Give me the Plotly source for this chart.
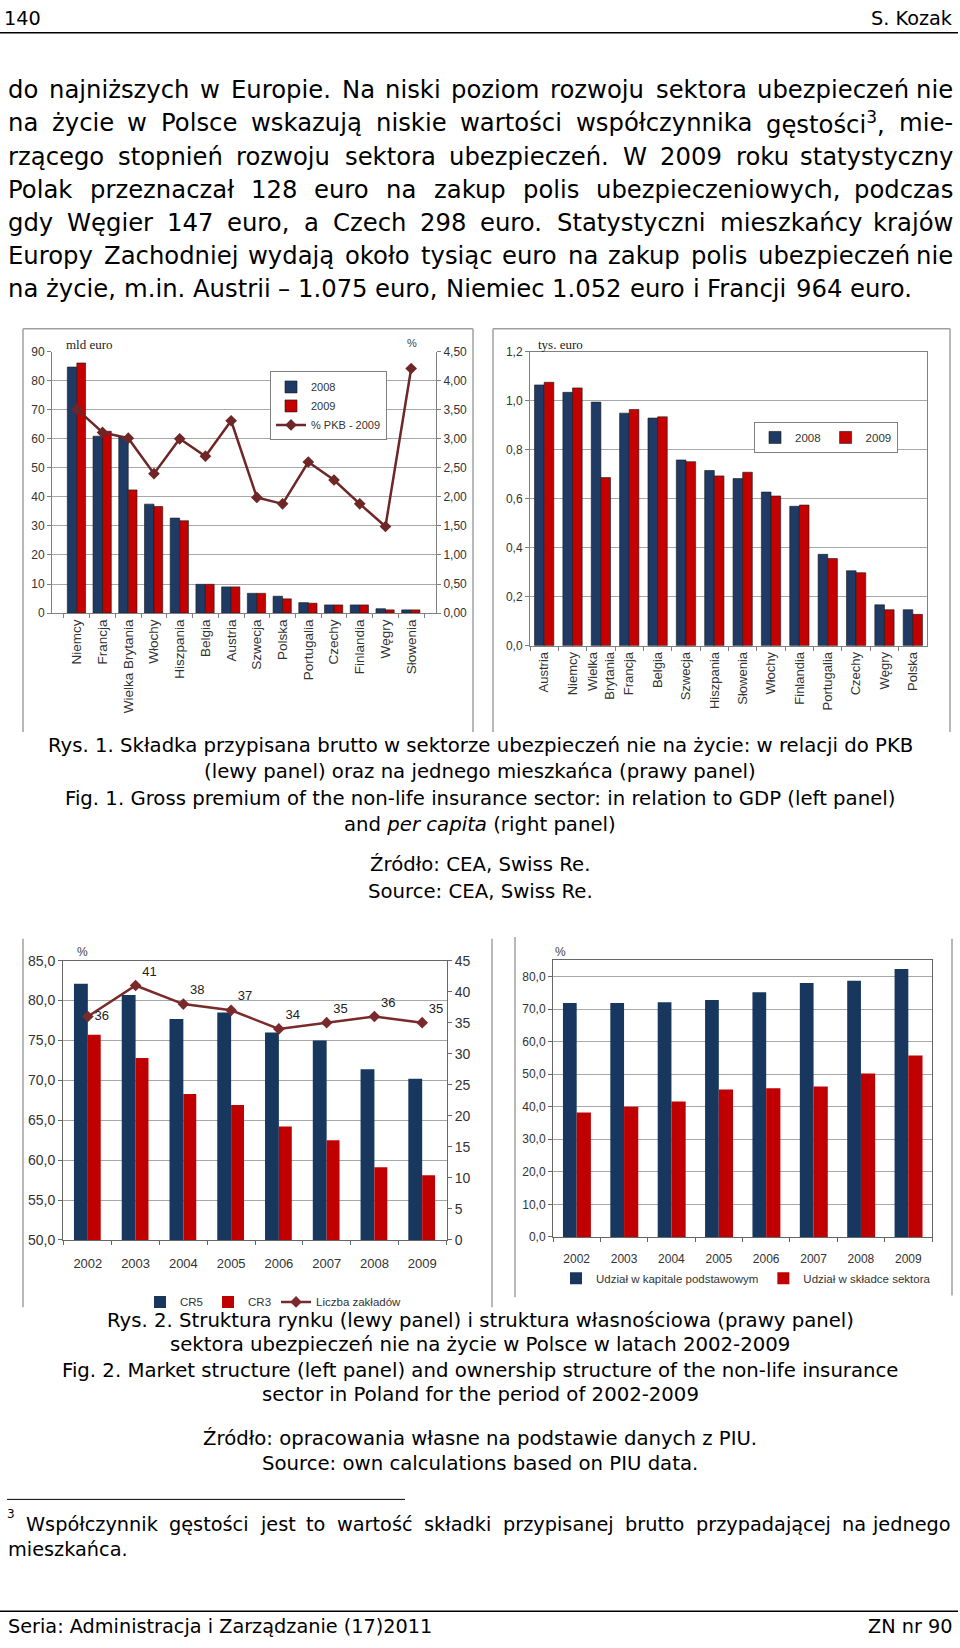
import plotly.graph_objects as go

# ---------------- data ----------------
kraje_pkb = ["Niemcy", "Francja", "Wielka Brytania", "Włochy", "Hiszpania", "Belgia", "Austria",
             "Szwecja", "Polska", "Portugalia", "Czechy", "Finlandia", "Węgry", "Słowenia"]
skladka_2008 = [84.7, 60.9, 60.6, 37.5, 32.7, 9.9, 9.0, 6.8, 5.8, 3.6, 2.8, 2.8, 1.5, 1.1]
skladka_2009 = [86.1, 62.6, 42.4, 36.7, 31.8, 9.9, 9.0, 6.8, 4.9, 3.4, 2.8, 2.8, 1.1, 1.1]
pkb_proc_2009 = [3.51, 3.11, 3.01, 2.40, 3.00, 2.70, 3.31, 1.99, 1.88, 2.60, 2.29, 1.88, 1.49, 4.21]

kraje_pc = ["Austria", "Niemcy", "Wielka Brytania", "Francja", "Belgia", "Szwecja", "Hiszpania",
            "Słowenia", "Włochy", "Finlandia", "Portugalia", "Czechy", "Węgry", "Polska"]
etykiety_pc = ["Austria", "Niemcy", "Wielka<br>Brytania", "Francja", "Belgia", "Szwecja", "Hiszpania",
               "Słowenia", "Włochy", "Finlandia", "Portugalia", "Czechy", "Węgry", "Polska"]
pc_2008 = [1.064, 1.034, 0.994, 0.949, 0.929, 0.758, 0.715, 0.682, 0.627, 0.569, 0.373, 0.306, 0.167, 0.147]
pc_2009 = [1.075, 1.052, 0.686, 0.964, 0.934, 0.751, 0.693, 0.708, 0.611, 0.574, 0.356, 0.298, 0.147, 0.128]

lata = ["2002", "2003", "2004", "2005", "2006", "2007", "2008", "2009"]
cr5 = [82.1, 80.7, 77.7, 78.5, 76.0, 75.0, 71.4, 70.2]
cr3 = [75.7, 72.8, 68.3, 66.9, 64.2, 62.5, 59.1, 58.1]
liczba_zakladow = [36, 41, 38, 37, 34, 35, 36, 35]
udzial_kapital = [71.9, 71.9, 72.1, 72.8, 75.2, 78.0, 78.7, 82.3]
udzial_skladka = [38.2, 40.0, 41.6, 45.3, 45.7, 46.2, 50.2, 55.7]

# ---------------- page text ----------------
naglowek_lewy = "140"
naglowek_prawy = "S. Kozak"
akapit = [
    "do najniższych w Europie. Na niski poziom rozwoju sektora ubezpieczeń nie",
    "na życie w Polsce wskazują niskie wartości współczynnika gęstości<sup>3</sup>, mie-",
    "rzącego stopnień rozwoju sektora ubezpieczeń. W 2009 roku statystyczny",
    "Polak przeznaczał 128 euro na zakup polis ubezpieczeniowych, podczas",
    "gdy Węgier 147 euro, a Czech 298 euro. Statystyczni mieszkańcy krajów",
    "Europy Zachodniej wydają około tysiąc euro na zakup polis ubezpieczeń nie",
    "na życie, m.in. Austrii – 1.075 euro, Niemiec 1.052 euro i Francji 964 euro.",
]
podpis1 = [
    "Rys. 1. Składka przypisana brutto w sektorze ubezpieczeń nie na życie: w relacji do PKB",
    "(lewy panel) oraz na jednego mieszkańca (prawy panel)",
    "Fig. 1. Gross premium of the non-life insurance sector: in relation to GDP (left panel)",
    "and <i>per capita</i> (right panel)",
    "Źródło: CEA, Swiss Re.",
    "Source: CEA, Swiss Re.",
]
podpis2 = [
    "Rys. 2. Struktura rynku (lewy panel) i struktura własnościowa (prawy panel)",
    "sektora ubezpieczeń nie na życie w Polsce w latach 2002-2009",
    "Fig. 2. Market structure (left panel) and ownership structure of the non-life insurance",
    "sector in Poland for the period of 2002-2009",
    "Źródło: opracowania własne na podstawie danych z PIU.",
    "Source: own calculations based on PIU data.",
]
przypis = [
    "Współczynnik gęstości jest to wartość składki przypisanej brutto przypadającej na jednego",
    "mieszkańca.",
]
stopka_lewa = "Seria: Administracja i Zarządzanie (17)2011"
stopka_prawa = "ZN nr 90"

# ---------------- geometry helpers ----------------
W, H = 960, 1648
def px(x): return x / W
def py(y): return 1 - y / H

SANS = "DejaVu Sans, Liberation Sans, sans-serif"
CHART = "Liberation Sans, Arial, sans-serif"
SERIF = "Liberation Serif, Times New Roman, serif"

# DejaVu Sans advance widths (units / 2048)
DW = {' ': 651, ',': 651, '.': 651, ':': 690, ';': 690, '-': 739, '(': 799, ')': 799, '–': 1024, '%': 1946,
      'A': 1401, 'B': 1405, 'C': 1430, 'D': 1577, 'E': 1294, 'F': 1178, 'G': 1587, 'H': 1540, 'I': 604,
      'J': 604, 'K': 1343, 'L': 1141, 'M': 1767, 'N': 1532, 'O': 1612, 'P': 1235, 'Q': 1612, 'R': 1423,
      'S': 1300, 'T': 1251, 'U': 1499, 'V': 1401, 'W': 2025, 'X': 1403, 'Y': 1251, 'Z': 1403,
      'a': 1255, 'b': 1300, 'c': 1126, 'd': 1300, 'e': 1260, 'f': 721, 'g': 1300, 'h': 1298, 'i': 569,
      'j': 569, 'k': 1186, 'l': 569, 'm': 1995, 'n': 1298, 'o': 1253, 'p': 1300, 'q': 1300, 'r': 842,
      's': 1067, 't': 803, 'u': 1298, 'v': 1212, 'w': 1675, 'x': 1212, 'y': 1212, 'z': 1075,
      'ą': 1255, 'ć': 1126, 'ę': 1260, 'ł': 589, 'ń': 1298, 'ó': 1253, 'ś': 1067, 'ź': 1075, 'ż': 1075,
      'Ł': 1159, 'Ś': 1300, 'Ź': 1403, 'Ż': 1403}
for d in "0123456789":
    DW[d] = 1303

def clean(s):
    for t in ("<sup>", "</sup>", "<i>", "</i>"):
        s = s.replace(t, "")
    return s

def tw(s, size):
    return sum(DW.get(ch, 1250) for ch in clean(s)) * size / 2048.0

annotations = []

def ann(text, x, y, size, xanchor="left", family=SANS, color="black", yanchor="middle"):
    annotations.append(dict(text=text, x=px(x), y=py(y), xref="paper", yref="paper",
                            xanchor=xanchor, yanchor=yanchor, showarrow=False,
                            font=dict(family=family, size=size, color=color)))

def justified(line, y, x0, x1, size, justify=True):
    words = line.split(" ")
    widths = [tw(w, size) for w in words]
    if justify and len(words) > 1:
        gap = (x1 - x0 - sum(widths)) / (len(words) - 1)
    else:
        gap = tw(" ", size)
    x = x0
    for i, (w, wd) in enumerate(zip(words, widths)):
        if justify and i == len(words) - 1 and len(words) > 1:
            ann(w, x1, y, size, xanchor="right")
        else:
            ann(w, x, y, size)
        x += wd + gap

# text sizes derived from measured line extents
body_size = 905 / tw(akapit[-1], 1)
cap_size = 555 / tw(podpis2[4], 1)
hf_size = 425 / tw(stopka_lewa, 1)
fn_size = cap_size * 0.98

# header
ann(naglowek_lewy, 2, 11, hf_size)
ann(naglowek_prawy, 955, 11, hf_size, xanchor="right")

# body paragraph
body_y = [82.5, 116, 149.5, 183, 216.5, 250, 283.5]
for i, (line, y) in enumerate(zip(akapit, body_y)):
    justified(line, y, 6, 955, body_size, justify=(i < len(akapit) - 1))

# captions
for line, y in zip(podpis1, [745, 771, 798, 825, 865, 892]):
    ann(line, 480, y, cap_size, xanchor="center")
for line, y in zip(podpis2, [1325, 1350, 1375.5, 1400.5, 1445, 1470]):
    ann(line, 480, y, cap_size, xanchor="center")

# footnote
ann("3", 5, 1521, fn_size * 0.62)
justified(przypis[0], 1531, 24, 953, fn_size, justify=True)
ann(przypis[1], 6, 1557, fn_size)

# footer
ann(stopka_lewa, 6, 1634, hf_size)
ann(stopka_prawa, 955, 1634, hf_size, xanchor="right")

# chart unit labels
ann("mld euro", 64, 340, 13, family=SERIF, color="#222")
ann("%", 412, 338, 11, xanchor="center", family=CHART, color="#444")
ann("tys. euro", 536, 340, 13, family=SERIF, color="#222")
ann("%", 82, 953, 12, xanchor="center", family=CHART, color="#444")
ann("%", 560, 953, 12, xanchor="center", family=CHART, color="#444")

# ---------------- figure ----------------
NAVY = "#1F3A64"
RED = "#C40000"
NAVY2 = "#17375E"
RED2 = "#C00000"
LINE1 = "#6E2626"
LINE2 = "#7A2A2A"
OUT = dict(color="#1a1a1a", width=0.6)

fig = go.Figure()

# Chart 1: premiums and % of GDP
fig.add_trace(go.Bar(x=kraje_pkb, y=skladka_2008, name="2008", width=0.37, offset=-0.37,
                     marker=dict(color=NAVY, line=OUT), xaxis="x", yaxis="y", legend="legend"))
fig.add_trace(go.Bar(x=kraje_pkb, y=skladka_2009, name="2009", width=0.34, offset=0.0,
                     marker=dict(color=RED, line=OUT), xaxis="x", yaxis="y", legend="legend"))
fig.add_trace(go.Scatter(x=kraje_pkb, y=pkb_proc_2009, name="% PKB - 2009", mode="lines+markers",
                         line=dict(color=LINE1, width=2.5),
                         marker=dict(symbol="diamond", size=9, color=LINE1),
                         xaxis="x", yaxis="y2", legend="legend"))

# Chart 2: per capita
fig.add_trace(go.Bar(x=kraje_pc, y=pc_2008, name="2008", width=0.34, offset=-0.34,
                     marker=dict(color=NAVY, line=OUT), xaxis="x2", yaxis="y3", legend="legend2"))
fig.add_trace(go.Bar(x=kraje_pc, y=pc_2009, name="2009", width=0.34, offset=0.0,
                     marker=dict(color=RED, line=OUT), xaxis="x2", yaxis="y3", legend="legend2"))

# Chart 3: market structure
fig.add_trace(go.Bar(x=lata, y=cr5, name="CR5", width=0.29, offset=-0.29,
                     marker=dict(color=NAVY2, line=dict(width=0)), xaxis="x3", yaxis="y4", legend="legend3"))
fig.add_trace(go.Bar(x=lata, y=cr3, name="CR3", width=0.27, offset=0.0,
                     marker=dict(color=RED2, line=dict(width=0)), xaxis="x3", yaxis="y4", legend="legend3"))
fig.add_trace(go.Scatter(x=lata, y=liczba_zakladow, name="Liczba zakładów", mode="lines+markers+text",
                         text=[str(v) for v in liczba_zakladow],
                         textposition=["middle right"] + ["top right"] * (len(lata) - 1),
                         textfont=dict(family=CHART, size=13, color="#222"),
                         line=dict(color=LINE2, width=2.5),
                         marker=dict(symbol="diamond", size=9, color=LINE2),
                         xaxis="x3", yaxis="y5", legend="legend3"))

# Chart 4: ownership structure
fig.add_trace(go.Bar(x=lata, y=udzial_kapital, name="Udział w kapitale podstawowym", width=0.29, offset=-0.29,
                     marker=dict(color=NAVY2, line=dict(width=0)), xaxis="x4", yaxis="y6", legend="legend4"))
fig.add_trace(go.Bar(x=lata, y=udzial_skladka, name="Udział w składce sektora", width=0.30, offset=0.0,
                     marker=dict(color=RED2, line=dict(width=0)), xaxis="x4", yaxis="y6", legend="legend4"))

AX = "#808080"
GRID = "#A8A8A8"
tf = lambda s: dict(family=CHART, size=s, color="#333")

fig.update_layout(
    width=W, height=H, autosize=False,
    margin=dict(l=0, r=0, t=0, b=0),
    paper_bgcolor="white", plot_bgcolor="white",
    separators=", ",
    barmode="overlay",
    showlegend=True,
    annotations=annotations,
    # chart 1
    xaxis=dict(domain=[px(52), px(436)], anchor="y", type="category", showline=True, linecolor=AX,
               ticks="outside", tickson="boundaries", ticklen=4, tickcolor=AX, tickangle=-90,
               tickfont=tf(13.5), showgrid=False),
    yaxis=dict(domain=[py(611), py(347)], anchor="x", range=[0, 90], dtick=10, showgrid=True,
               gridcolor=GRID, showline=True, linecolor=AX, ticks="outside", ticklen=4, tickcolor=AX,
               tickfont=tf(12), zeroline=False),
    yaxis2=dict(overlaying="y", side="right", anchor="x", range=[0, 4.5], dtick=0.5, tickformat=".2f",
                showgrid=False, showline=True, linecolor=AX, ticks="outside", ticklen=4, tickcolor=AX,
                tickfont=tf(12), zeroline=False),
    # chart 2
    xaxis2=dict(domain=[px(530), px(927)], anchor="y3", type="category", showline=True, linecolor=AX,
                mirror=True, ticks="outside", tickson="boundaries", ticklen=4, tickcolor=AX, tickangle=-90,
                tickvals=kraje_pc, ticktext=etykiety_pc, tickfont=tf(13), showgrid=False),
    yaxis3=dict(domain=[py(644), py(347)], anchor="x2", range=[0, 1.2], dtick=0.2, tickformat=".1f",
                showgrid=True, gridcolor=GRID, showline=True, linecolor=AX, mirror=True, ticks="outside",
                ticklen=4, tickcolor=AX, tickfont=tf(12), zeroline=False),
    # chart 3
    xaxis3=dict(domain=[px(63), px(447)], anchor="y4", type="category", showline=True, linecolor="#666",
                mirror=True, ticks="outside", tickson="boundaries", ticklen=4, tickcolor="#666",
                tickfont=tf(13), showgrid=False, ticklabelstandoff=11),
    yaxis4=dict(domain=[py(1244), py(962)], anchor="x3", range=[50, 85], dtick=5, tickformat=".1f",
                showgrid=True, gridcolor=GRID, showline=True, linecolor="#666", ticks="outside",
                ticklen=4, tickcolor="#666", tickfont=tf(14), zeroline=False),
    yaxis5=dict(overlaying="y4", side="right", anchor="x3", range=[0, 45], dtick=5, showgrid=False,
                showline=True, linecolor="#666", ticks="outside", ticklen=4, tickcolor="#666",
                tickfont=tf(14), zeroline=False),
    # chart 4
    xaxis4=dict(domain=[px(553), px(932)], anchor="y6", type="category", showline=True, linecolor="#666",
                mirror=True, ticks="outside", tickson="boundaries", ticklen=4, tickcolor="#666",
                tickfont=tf(12), showgrid=False, ticklabelstandoff=11),
    yaxis6=dict(domain=[py(1241), py(1241 - 85 * 3.2875)], anchor="x4", range=[0, 85], dtick=10,
                tickformat=".1f", showgrid=True, gridcolor=GRID, showline=True, linecolor="#666",
                mirror=True, ticks="outside", ticklen=4, tickcolor="#666", tickfont=tf(12),
                zeroline=False),
    legend=dict(x=px(270), y=py(367), xanchor="left", yanchor="top", orientation="v",
                bordercolor="#808080", borderwidth=1, bgcolor="white", font=tf(11),
                tracegroupgap=0, traceorder="normal", itemwidth=30),
    legend2=dict(x=px(754), y=py(418), xanchor="left", yanchor="top", orientation="h",
                 bordercolor="#808080", borderwidth=1, bgcolor="white", font=tf(11.5)),
    legend3=dict(x=px(140), y=py(1292), xanchor="left", yanchor="top", orientation="h",
                 bgcolor="rgba(0,0,0,0)", font=tf(11.5)),
    legend4=dict(x=px(556), y=py(1268), xanchor="left", yanchor="top", orientation="h",
                 bgcolor="rgba(0,0,0,0)", font=tf(11.5)),
)

# page rules and chart frames
def hline(x0, x1, y, color="black", width=1.2):
    return dict(type="line", xref="paper", yref="paper", x0=px(x0), x1=px(x1), y0=py(y), y1=py(y),
                line=dict(color=color, width=width))

def vline(x, y0, y1, color="#A0A0A0", width=1.5):
    return dict(type="line", xref="paper", yref="paper", x0=px(x), x1=px(x), y0=py(y0), y1=py(y1),
                line=dict(color=color, width=width))

FR = "#A0A0A0"
shapes = [
    hline(0, 958, 25, width=1.5),
    hline(7, 405, 1506, width=1),
    hline(0, 958, 1619, width=1.5),
    hline(23, 473, 324, color=FR, width=1.5), vline(23, 324, 731), vline(473, 324, 731),
    hline(493, 950, 324, color=FR, width=1.5), vline(493, 324, 731), vline(950, 324, 731),
    vline(23, 940, 1312), vline(492, 940, 1312),
    vline(515, 938, 1302), vline(952, 940, 1300),
]
fig.update_layout(shapes=shapes)

fig.write_html(
    "out.html",
    config={"displayModeBar": False},
    post_script="document.body.style.margin='0';document.body.style.padding='0';"
                "document.body.style.overflow='hidden';",
)
